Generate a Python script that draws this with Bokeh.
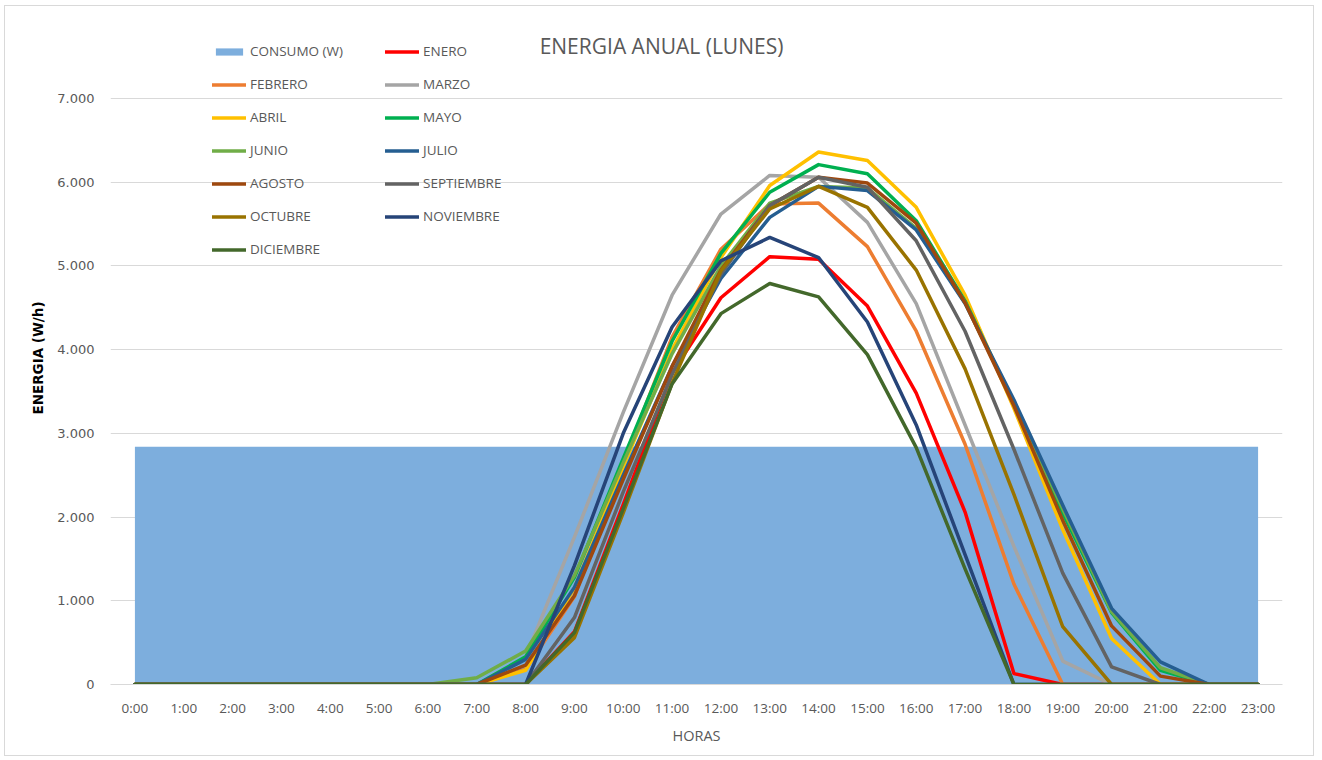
from bokeh.plotting import figure
from bokeh.models import (ColumnDataSource, FactorRange, Range1d, Legend, LegendItem,
                          FixedTicker, Label)
from bokeh.embed import file_html
from bokeh.resources import INLINE

hours = ["0:00", "1:00", "2:00", "3:00", "4:00", "5:00", "6:00", "7:00", "8:00", "9:00",
         "10:00", "11:00", "12:00", "13:00", "14:00", "15:00", "16:00", "17:00", "18:00",
         "19:00", "20:00", "21:00", "22:00", "23:00"]

consumo = [2840, 2840, 2840, 2840, 2840, 2840, 2840, 2840, 2840, 2840, 2840, 2840,
           2840, 2840, 2840, 2840, 2840, 2840, 2840, 2840, 2840, 2840, 2840, 2840]

enero = [0, 0, 0, 0, 0, 0, 0, 0, 0, 630, 2150, 3720, 4620, 5110, 5080, 4520, 3480, 2060,
         130, 0, 0, 0, 0, 0]
febrero = [0, 0, 0, 0, 0, 0, 0, 0, 180, 1050, 2650, 4150, 5200, 5740, 5750, 5230, 4220,
           2870, 1200, 0, 0, 0, 0, 0]
marzo = [0, 0, 0, 0, 0, 0, 0, 0, 330, 1760, 3250, 4650, 5620, 6080, 6060, 5520, 4550,
         3100, 1650, 280, 0, 0, 0, 0]
abril = [0, 0, 0, 0, 0, 0, 0, 0, 170, 1150, 2600, 4000, 5100, 5960, 6360, 6260, 5700,
         4650, 3300, 1850, 550, 0, 0, 0]
mayo = [0, 0, 0, 0, 0, 0, 0, 0, 330, 1280, 2700, 4100, 5150, 5880, 6210, 6100, 5540,
        4580, 3350, 2050, 860, 170, 0, 0]
junio = [0, 0, 0, 0, 0, 0, 0, 80, 400, 1300, 2650, 3950, 5000, 5750, 5950, 5930, 5450,
         4560, 3360, 2100, 870, 200, 0, 0]
julio = [0, 0, 0, 0, 0, 0, 0, 0, 300, 1160, 2500, 3800, 4850, 5580, 5950, 5900, 5430,
         4550, 3400, 2140, 910, 270, 0, 0]
agosto = [0, 0, 0, 0, 0, 0, 0, 0, 230, 1060, 2450, 3800, 4950, 5720, 6060, 5990, 5510,
          4560, 3330, 1960, 700, 100, 0, 0]
septiembre = [0, 0, 0, 0, 0, 0, 0, 0, 0, 800, 2300, 3700, 4900, 5720, 6060, 5940, 5300,
              4220, 2810, 1330, 210, 0, 0, 0]
octubre = [0, 0, 0, 0, 0, 0, 0, 0, 0, 560, 2050, 3600, 4940, 5680, 5950, 5700, 4950,
           3770, 2270, 690, 0, 0, 0, 0]
noviembre = [0, 0, 0, 0, 0, 0, 0, 0, 0, 1420, 3000, 4270, 5060, 5340, 5100, 4330, 3100,
             1550, 0, 0, 0, 0, 0, 0]
diciembre = [0, 0, 0, 0, 0, 0, 0, 0, 0, 620, 2100, 3590, 4430, 4790, 4630, 3940, 2830,
             1380, 0, 0, 0, 0, 0, 0]

months = ["ENERO", "FEBRERO", "MARZO", "ABRIL", "MAYO", "JUNIO", "JULIO", "AGOSTO",
          "SEPTIEMBRE", "OCTUBRE", "NOVIEMBRE", "DICIEMBRE"]
series = [enero, febrero, marzo, abril, mayo, junio, julio, agosto, septiembre, octubre,
          noviembre, diciembre]
colors = ["#FF0000", "#ED7D31", "#A5A5A5", "#FFC000", "#00B050", "#70AD47", "#255E91",
          "#9E480E", "#636363", "#997300", "#264478", "#43682B"]

y_ticks = [0, 1000, 2000, 3000, 4000, 5000, 6000, 7000]
y_tick_labels = ["0", "1.000", "2.000", "3.000", "4.000", "5.000", "6.000", "7.000"]

FONT = "Open Sans"
WIDE = "DejaVu Sans"
GREY = "#595959"

data = {"hora": hours, "CONSUMO": consumo}
for m, s in zip(months, series):
    data[m] = s
src = ColumnDataSource(data)

p = figure(width=1310, height=751,
           x_range=FactorRange(factors=hours, range_padding=0),
           y_range=Range1d(0, 7800),
           output_backend="svg", toolbar_location=None,
           min_border_left=105, min_border_right=33,
           min_border_top=25, min_border_bottom=73)

p.outline_line_color = None
p.background_fill_color = "white"
p.styles = {"border": "1px solid #d9d9d9", "margin": "5px 0px 0px 4px"}

p.xgrid.grid_line_color = None
p.ygrid.grid_line_color = "#d9d9d9"
p.ygrid.grid_line_width = 1
p.ygrid.ticker = FixedTicker(ticks=y_ticks)

p.yaxis.ticker = FixedTicker(ticks=y_ticks)
p.yaxis.major_label_overrides = {t: l for t, l in zip(y_ticks, y_tick_labels)}
p.yaxis.axis_line_color = None
p.yaxis.major_tick_line_color = None
p.yaxis.minor_tick_line_color = None
p.yaxis.major_label_text_font = WIDE
p.yaxis.major_label_text_font_size = "13px"
p.yaxis.major_label_text_color = GREY
p.yaxis.major_label_standoff = 10
p.yaxis.axis_label = "ENERGIA (W/h)"
p.yaxis.axis_label_text_font = WIDE
p.yaxis.axis_label_text_font_size = "13.5px"
p.yaxis.axis_label_text_font_style = "bold"
p.yaxis.axis_label_text_color = "#000000"
p.yaxis.axis_label_standoff = 8

p.xaxis.axis_line_color = "#d9d9d9"
p.xaxis.major_tick_line_color = None
p.xaxis.minor_tick_line_color = None
p.xaxis.major_label_text_font = FONT
p.xaxis.major_label_text_font_size = "13.5px"
p.xaxis.major_label_text_color = GREY
p.xaxis.major_label_standoff = 8
p.xaxis.axis_label = "HORAS"
p.xaxis.axis_label_text_font = FONT
p.xaxis.axis_label_text_font_size = "14.5px"
p.xaxis.axis_label_text_font_style = "normal"
p.xaxis.axis_label_text_color = GREY
p.xaxis.axis_label_standoff = 6

area = p.varea(x="hora", y1=0, y2="CONSUMO", source=src, fill_color="#7DAEDD")

renderers = {}
for m, c in zip(months, colors):
    renderers[m] = p.line(x="hora", y=m, source=src, line_color=c, line_width=3.5,
                          line_join="round", line_cap="round")

p.add_layout(Label(x=551, y=639, x_units="screen", y_units="screen",
                   text="ENERGIA ANUAL (LUNES)", text_align="center",
                   text_baseline="middle", text_font=FONT, text_font_size="21px",
                   text_color=GREY))

left_items = [LegendItem(label="CONSUMO (W)", renderers=[area])] + \
    [LegendItem(label=m, renderers=[renderers[m]]) for m in months[1::2]]
right_items = [LegendItem(label=m, renderers=[renderers[m]]) for m in months[0::2]]


def make_legend(items, loc):
    lg = Legend(items=items, location=loc, orientation="vertical",
                glyph_width=34, glyph_height=9, label_height=20, spacing=13,
                label_standoff=4, padding=0, margin=0,
                border_line_color=None, background_fill_alpha=0,
                label_text_font=FONT, label_text_font_size="13.5px",
                label_text_color=GREY)
    return lg


p.add_layout(make_legend(left_items, (102, 425)))
p.add_layout(make_legend(right_items, (275, 458)))

open("out.html", "w").write(file_html(p, INLINE))
